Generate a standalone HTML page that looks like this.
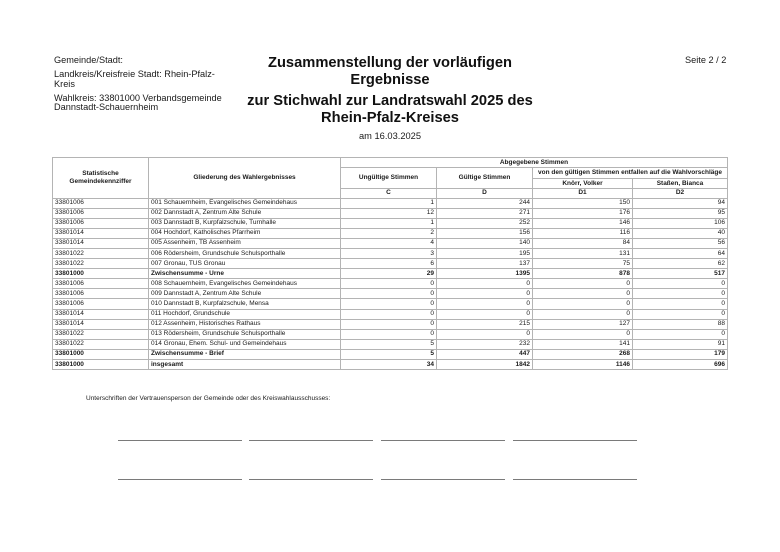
<!DOCTYPE html>
<html>
<head>
<meta charset="utf-8">
<style>
  html,body{margin:0;padding:0;background:#fff;}
  body{width:780px;height:552px;position:relative;overflow:hidden;font-family:"Liberation Sans",Arial,sans-serif;color:#1a1a1a;}
  .a{position:absolute;white-space:nowrap;}
  .lh{font-size:9.2px;line-height:10px;}
  .tt{font-size:14.7px;font-weight:bold;line-height:17px;text-align:center;width:400px;left:190px;color:#111;}
  table{position:absolute;left:52px;top:157px;border-collapse:collapse;table-layout:fixed;font-size:6.5px;line-height:8px;}
  td,th{border:1px solid #b4b4b4;padding:0 2px;overflow:hidden;white-space:nowrap;vertical-align:middle;}
  th{font-weight:bold;text-align:center;}
  td.n{text-align:right;}
  tr.b td{font-weight:bold;}
  tbody tr{height:10.1px;}
  .sig{position:absolute;height:1px;background:#7a7a7a;width:124px;}
</style>
</head>
<body>
<div class="a lh" style="left:54px;top:55px;">Gemeinde/Stadt:</div>
<div class="a lh" style="left:54px;top:69px;">Landkreis/Kreisfreie Stadt: Rhein-Pfalz-</div>
<div class="a lh" style="left:54px;top:78.5px;">Kreis</div>
<div class="a lh" style="left:54px;top:92.5px;">Wahlkreis: 33801000 Verbandsgemeinde</div>
<div class="a lh" style="left:54px;top:102px;">Dannstadt-Schauernheim</div>

<div class="a tt" style="top:55px;">Zusammenstellung der vorläufigen</div>
<div class="a tt" style="top:71.5px;">Ergebnisse</div>
<div class="a tt" style="top:93px;">zur Stichwahl zur Landratswahl 2025 des</div>
<div class="a tt" style="top:109.5px;">Rhein-Pfalz-Kreises</div>
<div class="a" style="left:290px;width:200px;text-align:center;top:131px;font-size:9.3px;line-height:10px;">am 16.03.2025</div>

<div class="a lh" style="left:685px;top:55px;">Seite 2 / 2</div>

<table>
<colgroup>
<col style="width:96px"><col style="width:192px"><col style="width:96px"><col style="width:96px"><col style="width:100px"><col style="width:95px">
</colgroup>
<thead>
<tr style="height:10px;">
<th rowspan="4">Statistische<br>Gemeindekennziffer</th>
<th rowspan="4">Gliederung des Wahlergebnisses</th>
<th colspan="4">Abgegebene Stimmen</th>
</tr>
<tr style="height:11px;">
<th rowspan="2">Ungültige Stimmen</th>
<th rowspan="2">Gültige Stimmen</th>
<th colspan="2">von den gültigen Stimmen entfallen auf die Wahlvorschläge</th>
</tr>
<tr style="height:10px;">
<th>Knörr, Volker</th>
<th>Staßen, Bianca</th>
</tr>
<tr style="height:9.5px;">
<th>C</th><th>D</th><th>D1</th><th>D2</th>
</tr>
</thead>
<tbody>
<tr><td>33801006</td><td>001 Schauernheim, Evangelisches Gemeindehaus</td><td class="n">1</td><td class="n">244</td><td class="n">150</td><td class="n">94</td></tr>
<tr><td>33801006</td><td>002 Dannstadt A, Zentrum Alte Schule</td><td class="n">12</td><td class="n">271</td><td class="n">176</td><td class="n">95</td></tr>
<tr><td>33801006</td><td>003 Dannstadt B, Kurpfalzschule, Turnhalle</td><td class="n">1</td><td class="n">252</td><td class="n">146</td><td class="n">106</td></tr>
<tr><td>33801014</td><td>004 Hochdorf, Katholisches Pfarrheim</td><td class="n">2</td><td class="n">156</td><td class="n">116</td><td class="n">40</td></tr>
<tr><td>33801014</td><td>005 Assenheim, TB Assenheim</td><td class="n">4</td><td class="n">140</td><td class="n">84</td><td class="n">56</td></tr>
<tr><td>33801022</td><td>006 Rödersheim, Grundschule Schulsporthalle</td><td class="n">3</td><td class="n">195</td><td class="n">131</td><td class="n">64</td></tr>
<tr><td>33801022</td><td>007 Gronau, TUS Gronau</td><td class="n">6</td><td class="n">137</td><td class="n">75</td><td class="n">62</td></tr>
<tr class="b"><td>33801000</td><td>Zwischensumme - Urne</td><td class="n">29</td><td class="n">1395</td><td class="n">878</td><td class="n">517</td></tr>
<tr><td>33801006</td><td>008 Schauernheim, Evangelisches Gemeindehaus</td><td class="n">0</td><td class="n">0</td><td class="n">0</td><td class="n">0</td></tr>
<tr><td>33801006</td><td>009 Dannstadt A, Zentrum Alte Schule</td><td class="n">0</td><td class="n">0</td><td class="n">0</td><td class="n">0</td></tr>
<tr><td>33801006</td><td>010 Dannstadt B, Kurpfalzschule, Mensa</td><td class="n">0</td><td class="n">0</td><td class="n">0</td><td class="n">0</td></tr>
<tr><td>33801014</td><td>011 Hochdorf, Grundschule</td><td class="n">0</td><td class="n">0</td><td class="n">0</td><td class="n">0</td></tr>
<tr><td>33801014</td><td>012 Assenheim, Historisches Rathaus</td><td class="n">0</td><td class="n">215</td><td class="n">127</td><td class="n">88</td></tr>
<tr><td>33801022</td><td>013 Rödersheim, Grundschule Schulsporthalle</td><td class="n">0</td><td class="n">0</td><td class="n">0</td><td class="n">0</td></tr>
<tr><td>33801022</td><td>014 Gronau, Ehem. Schul- und Gemeindehaus</td><td class="n">5</td><td class="n">232</td><td class="n">141</td><td class="n">91</td></tr>
<tr class="b"><td>33801000</td><td>Zwischensumme - Brief</td><td class="n">5</td><td class="n">447</td><td class="n">268</td><td class="n">179</td></tr>
<tr class="b"><td>33801000</td><td>insgesamt</td><td class="n">34</td><td class="n">1842</td><td class="n">1146</td><td class="n">696</td></tr>
</tbody>
</table>

<div class="a" style="left:86px;top:395px;font-size:6.5px;line-height:8px;">Unterschriften der Vertrauensperson der Gemeinde oder des Kreiswahlausschusses:</div>

<div class="sig" style="left:118px;top:440px;"></div>
<div class="sig" style="left:249px;top:440px;"></div>
<div class="sig" style="left:381px;top:440px;"></div>
<div class="sig" style="left:513px;top:440px;"></div>
<div class="sig" style="left:118px;top:479px;"></div>
<div class="sig" style="left:249px;top:479px;"></div>
<div class="sig" style="left:381px;top:479px;"></div>
<div class="sig" style="left:513px;top:479px;"></div>
</body>
</html>
